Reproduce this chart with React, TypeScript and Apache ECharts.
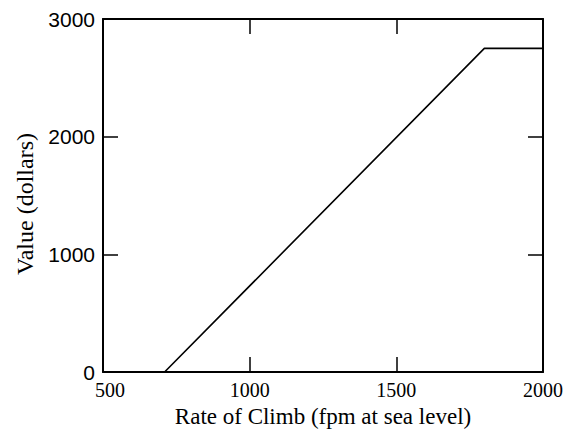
import React, { useEffect, useRef } from "react";
import * as echarts from "echarts";

const rateOfClimb = [710, 1800, 2000];
const valueDollars = [0, 2750, 2750];
const xTicks = [500, 1000, 1500, 2000];
const yTicks = [0, 1000, 2000, 3000];
const xTitle = "Rate of Climb (fpm at sea level)";
const yTitle = "Value (dollars)";

export default function App() {
  const ref = useRef<HTMLDivElement>(null);
  useEffect(() => {
    if (!ref.current) return;
    const chart = echarts.init(ref.current, null, { renderer: "svg" });
    const serif = "Liberation Serif";
    const sans = "Liberation Sans";
    const mkLine = () => ({ show: true, onZero: false, lineStyle: { color: "#000", width: 2 } });
    const mkTick = () => ({ show: true, inside: true, length: 15, lineStyle: { color: "#000", width: 1.5 } });
    chart.setOption({
      animation: false,
      backgroundColor: "#fff",
      grid: { left: 103, right: 34, top: 19, bottom: 64 },
      xAxis: [
        {
          type: "value",
          min: xTicks[0],
          max: xTicks[xTicks.length - 1],
          interval: 500,
          position: "bottom",
          name: xTitle,
          nameLocation: "middle",
          nameGap: 30,
          nameTextStyle: { fontFamily: serif, fontSize: 23, color: "#000" },
          axisLine: mkLine(),
          axisTick: mkTick(),
          splitLine: { show: false },
          axisLabel: {
            margin: 8,
            fontFamily: serif,
            fontSize: 20,
            color: "#000",
            formatter: (v: number) => (v === xTicks[0] ? "{a|" + v + "}" : String(v)),
            rich: { a: { fontFamily: serif, fontSize: 20, color: "#000", padding: [0, 0, 0, 14] } },
          },
        },
        {
          type: "value",
          min: xTicks[0],
          max: xTicks[xTicks.length - 1],
          interval: 500,
          position: "top",
          axisLine: mkLine(),
          axisTick: mkTick(),
          axisLabel: { show: false },
          splitLine: { show: false },
        },
      ],
      yAxis: [
        {
          type: "value",
          min: yTicks[0],
          max: yTicks[yTicks.length - 1],
          interval: 1000,
          position: "left",
          name: yTitle,
          nameLocation: "middle",
          nameGap: 64,
          nameTextStyle: { fontFamily: serif, fontSize: 24, color: "#000", padding: [0, 17, 0, 0] },
          axisLine: mkLine(),
          axisTick: mkTick(),
          splitLine: { show: false },
          axisLabel: {
            margin: 8,
            fontFamily: sans,
            fontSize: 21,
            color: "#000",
            formatter: (v: number) => String(v),
          },
        },
        {
          type: "value",
          min: yTicks[0],
          max: yTicks[yTicks.length - 1],
          interval: 1000,
          position: "right",
          axisLine: mkLine(),
          axisTick: mkTick(),
          axisLabel: { show: false },
          splitLine: { show: false },
        },
      ],
      series: [
        {
          type: "line",
          data: rateOfClimb.map((x, i) => [x, valueDollars[i]]),
          symbol: "none",
          lineStyle: { color: "#000", width: 1.6 },
        },
      ],
    });
    return () => chart.dispose();
  }, []);
  return (
    <div
      ref={ref}
      style={{ position: "fixed", left: 0, top: 0, width: 577, height: 436 }}
    />
  );
}
